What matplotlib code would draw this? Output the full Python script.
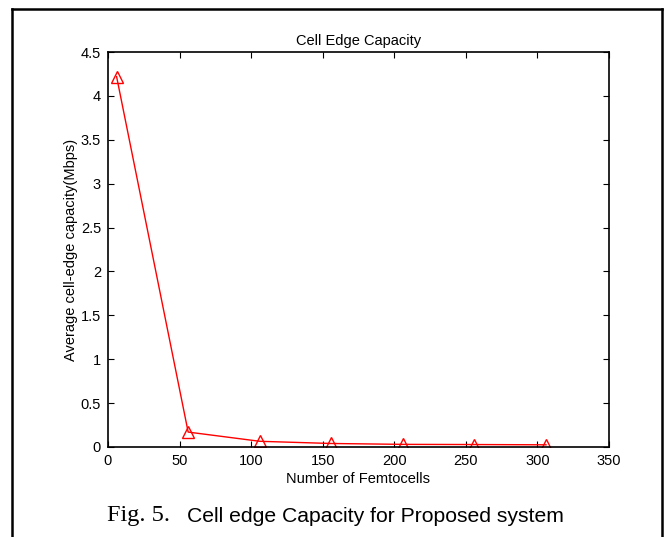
import matplotlib
matplotlib.use("Agg")
import matplotlib.pyplot as plt
from matplotlib.lines import Line2D

# Données
femtocells = [6, 56, 106, 156, 206, 256, 306]
capacite = [4.22, 0.17, 0.065, 0.04, 0.03, 0.028, 0.025]
xticks = [0, 50, 100, 150, 200, 250, 300, 350]
yticks = [0, 0.5, 1, 1.5, 2, 2.5, 3, 3.5, 4, 4.5]

plt.rcParams["font.family"] = ["Liberation Sans", "DejaVu Sans"]

W, H = 670, 537
fig = plt.figure(figsize=(W / 100, H / 100), dpi=100)
ax = fig.add_axes([108 / W, 1 - 447 / H, (609 - 108) / W, (447 - 52) / H])

ax.plot(femtocells, capacite, color="red", lw=1, marker="^",
        markersize=9, markerfacecolor="none", markeredgecolor="red", markeredgewidth=1)

ax.set_xlim(0, 350)
ax.set_ylim(0, 4.5)
ax.set_xticks(xticks)
ax.set_yticks(yticks)
ax.set_xticklabels([str(v) for v in xticks])
ax.set_yticklabels(["0", "0.5", "1", "1.5", "2", "2.5", "3", "3.5", "4", "4.5"])
ax.tick_params(direction="in", top=True, right=True, length=4, width=0.8,
               labelsize=10.5, pad=5)
for s in ax.spines.values():
    s.set_linewidth(1.2)

ax.set_title("Cell Edge Capacity", fontsize=10.5, pad=5)
ax.set_xlabel("Number of Femtocells", fontsize=10.5, labelpad=3)
ax.set_ylabel("Average cell-edge capacity(Mbps)", fontsize=10.5, labelpad=2)

# Légende de la figure
fig.text(107 / W, 1 - 516 / H, "Fig. 5.", fontsize=17.5,
         family=["Liberation Serif", "DejaVu Serif"], va="center", ha="left")
fig.text(187 / W, 1 - 516 / H, "Cell edge Capacity for Proposed system",
         fontsize=15.2, va="center", ha="left")

# Cadre extérieur (ouvert en bas)
x0, x1, y0 = 12 / W, 662 / W, 1 - 9 / H
for xs, ys in [([x0, x0], [0, y0]), ([x0, x1], [y0, y0]), ([x1, x1], [y0, 0])]:
    fig.add_artist(Line2D(xs, ys, color="black", lw=1.8, transform=fig.transFigure))

fig.savefig("out.png", dpi=100)
